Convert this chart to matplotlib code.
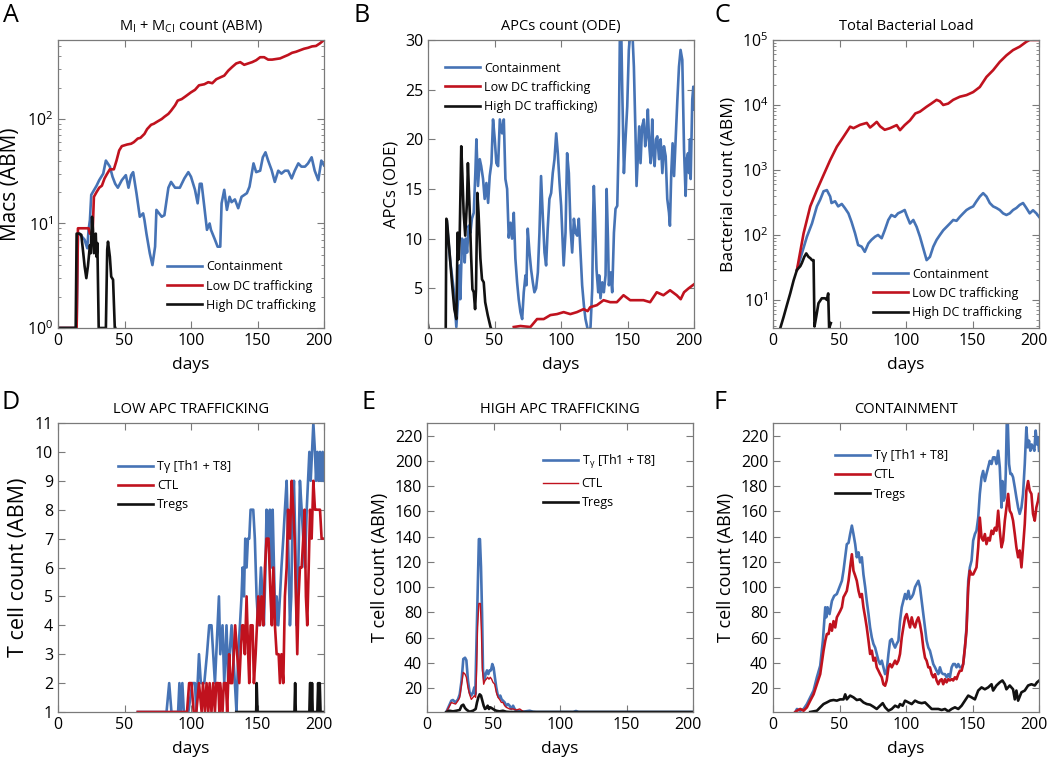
import numpy as np
import matplotlib
matplotlib.use('Agg')
import matplotlib.pyplot as plt
import matplotlib.transforms as mtransforms

plt.rcParams['font.family'] = ['Open Sans', 'DejaVu Sans']
plt.rcParams['mathtext.default'] = 'regular'

BLUE = '#4673b5'
RED = '#c0121e'
BLACK = '#111111'

# ---------------- panel A : Macs (ABM), log scale ----------------
a_blue = [[0, 1], [14, 1], [15, 8], [16, 8], [20, 7], [22, 5.8], [23, 8.7], [24, 10.8], [25, 18.8], [29, 23], [31, 26],
          [34, 30], [36, 40], [39, 35], [41, 28], [43, 24], [45, 22], [48, 26], [51, 29], [53, 22], [55, 29],
          [56.5, 31], [59, 19.5], [61.5, 11.6], [64, 12.5], [65, 10.8], [66.5, 8], [69, 5.2], [71, 4], [73, 6],
          [74, 13.5], [76, 12.5], [78, 11.6], [80, 12], [83, 22], [85, 25], [88, 22], [91.6, 22], [95, 27],
          [98, 31], [100, 28], [103, 21], [105, 15.6], [106.6, 24], [108, 24], [110, 14.5], [112, 8.7], [114, 10],
          [115, 8.7], [118, 7], [120, 6], [122, 6], [123, 15.6], [125, 21], [127, 13.5], [129, 18], [130.5, 16],
          [133, 17], [135.5, 14], [138, 18], [142, 19.5], [144, 22.5], [147, 37.6], [149, 31], [152, 32],
          [154, 43], [156, 48], [158, 40], [160.6, 32.5], [163, 25], [165.6, 32], [168, 30], [170.6, 32],
          [173, 32], [175.7, 27], [178, 32], [180.7, 37.6], [183, 35], [185.7, 35], [188, 37.6], [190.7, 43],
          [193, 32], [195.7, 26], [198, 40], [200, 36]]
a_red = [[0, 1], [14, 1], [15, 9], [23, 9], [24, 8], [26, 8], [27, 18], [29, 20], [31, 22], [33, 23], [35, 27],
         [37, 30], [39, 33], [42, 33], [44, 40], [46, 50], [48, 55], [52, 57], [55, 58], [57, 60], [60, 65],
         [62, 66], [65, 72], [67, 80], [70, 88], [72, 90], [75, 95], [78, 100], [80, 105], [83, 112], [85, 120],
         [88, 135], [90, 150], [93, 155], [96, 165], [100, 180], [103, 190], [106, 210], [110, 215], [113, 225],
         [116, 220], [119, 240], [122, 250], [125, 260], [128, 290], [131, 315], [134, 340], [137, 350],
         [140, 330], [143, 340], [146, 350], [149, 365], [152, 390], [155, 390], [158, 370], [161, 370],
         [164, 375], [167, 380], [170, 395], [173, 410], [176, 430], [179, 440], [182, 455], [185, 470],
         [188, 480], [191, 495], [194, 500], [197, 530], [200, 570]]
a_black = [[0, 1], [13.3, 1], [14, 8], [16, 8], [17.5, 7.8], [19, 5.2], [20, 3.9], [21.3, 3], [22.5, 3.9],
           [24, 6.2], [24.6, 5.2], [25.6, 11.6], [26.3, 8.7], [27, 5.2], [28.4, 8], [29, 4.8], [29.6, 6.5],
           [30.6, 1], [36, 1], [37, 5.6], [37.6, 6.7], [39, 4.8], [40, 3.1], [41.4, 2.9], [42.7, 1], [43, 1]]

# ---------------- panel B : APCs (ODE) ----------------
b_blue = [[14, 11.8], [16.8, 7.6], [19.3, 4.9], [21.3, 1.1], [22.6, 3.9], [23.6, 7.3], [24.3, 3.9], [25.6, 10],
          [26.8, 9.6], [27.6, 7.6], [28.4, 10], [29.4, 8.6], [30.6, 11.3], [31.9, 10.6], [33, 12], [34.4, 12.6],
          [35.6, 16.6], [36.4, 20], [37.6, 15.3], [38.9, 18], [40, 17.3], [41.4, 16], [42.6, 14], [43.9, 15.6],
          [45.2, 13.6], [46.4, 16.3], [47.7, 17.6], [48.9, 22], [50.2, 20], [51.4, 17.6], [52.7, 17.3],
          [54, 22], [55.7, 20.6], [57, 22], [58.2, 16], [59.5, 15], [60.7, 10.1], [62, 11.6], [63.2, 10],
          [64.5, 12.6], [65.7, 8], [67, 5.6], [68.2, 3.9], [69.5, 2.6], [70.8, 1.9], [72, 4.6], [73.3, 6.3],
          [74, 5.3], [75, 11], [76.3, 8.6], [77.5, 6.9], [78.8, 5.6], [80, 4.6], [81.3, 5], [82.6, 6.6],
          [83.8, 10.6], [85, 16.3], [86.3, 12.3], [87.6, 8.6], [88.8, 7.3], [90, 11], [91.3, 14], [92.6, 14.6],
          [93.8, 16.6], [95.1, 18], [96.4, 20.6], [97.6, 18.6], [98.9, 15.6], [100.1, 13.3], [101.4, 9.3],
          [102, 7.3], [103.4, 10.6], [104.6, 18.6], [105.9, 16.6], [107.2, 11], [108.4, 8.6], [109.7, 12],
          [110.9, 10.6], [112.2, 10.3], [113.4, 12], [114.7, 8.6], [115.9, 5.3], [117.2, 3.3], [118.4, 1.9],
          [119.7, 1.1], [121, 0.5], [122.2, 1.1], [123.5, 5], [124.2, 12.6], [124.7, 15.3], [125.5, 12.3],
          [126.7, 6.9], [128, 4.6], [128.7, 6.3], [129.7, 4], [131, 5.6], [132.2, 4.6], [133.5, 6.3],
          [134.3, 15], [135.3, 10], [136, 5.3], [137.3, 6.6], [138.5, 4.6], [139.8, 10.6], [141, 13],
          [142.3, 13.3], [143.5, 20.6], [144.3, 31], [145.3, 31], [146, 25.3], [147.3, 16.6], [148.5, 20],
          [149.8, 23.3], [151, 29], [152.3, 31], [153.6, 31], [154.8, 27.3], [156, 20.6], [156.8, 15.3],
          [157.8, 18.3], [158.8, 21.3], [159.8, 17.6], [161, 21.3], [162.3, 22], [163.3, 19.3], [164.3, 20.3],
          [165.3, 23], [166.4, 19.3], [167.4, 17.6], [168.6, 22], [169.4, 18.6], [170.4, 17.3], [171.4, 20],
          [172.4, 20.3], [173.7, 18], [174.9, 20], [176.2, 16.6], [177.4, 19.3], [178.7, 18.3], [179.9, 14],
          [181.2, 12.6], [181.9, 11.3], [182.9, 16.6], [183.9, 19.6], [185, 16.3], [186.2, 20], [187.5, 24],
          [188.7, 27.3], [189.9, 29], [191.2, 28], [192.5, 19], [193.7, 14.3], [194.5, 18], [195.5, 18.6],
          [196.2, 16.6], [197, 20], [197.5, 16], [198.7, 24], [199.5, 25.3], [200, 23]]
b_red = [[64.5, 1.1], [69.5, 1.2], [77, 1.1], [82, 1.9], [87, 1.9], [92, 2.3], [97, 2.4], [102, 2.6], [107, 2.4],
         [112, 2.6], [117, 2.9], [120, 2.7], [122, 3.1], [127, 3.3], [132, 3.8], [137, 3.6], [142, 3.6],
         [147, 4.3], [152, 3.8], [157, 3.8], [162, 3.8], [167, 3.6], [172, 4.6], [177, 4.3], [182, 4.8],
         [187, 4.3], [190, 3.9], [192.5, 4.6], [196, 5.0], [200, 5.4]]
b_black = [[0, 1.3], [1.5, 0], [13.3, 0], [13.8, 12], [14.3, 11.8], [16.8, 7.6], [18, 5.6], [19.8, 2.9],
           [21.3, 1.9], [22.3, 10.6], [23, 7.9], [23.8, 10], [25, 19.3], [25.8, 16.6], [26.8, 12.6], [28, 10.3],
           [29.4, 14], [30, 17.6], [31.4, 12.6], [32.4, 8.3], [33.4, 4.9], [34.4, 4.6], [35.4, 2.9], [36.1, 4.9],
           [37.1, 14.6], [38, 12.6], [39.4, 8], [40.6, 5.9], [41.9, 5.6], [43, 3.6], [44.9, 2.3], [47, 1.1],
           [49, 0.5]]

# ---------------- panel C : bacterial load, log scale ----------------
c_red = [[18, 29], [23, 106], [28, 275], [33, 490], [38, 836], [43, 1420], [48, 2280], [53, 3240], [58, 4640],
         [60.5, 4400], [65.5, 4950], [70.5, 5300], [73, 4500], [75.5, 4950], [78, 5500], [80.5, 4700],
         [84, 4150], [88, 4400], [93, 4900], [95.5, 4100], [99, 4900], [103, 5800], [107, 7400], [110.5, 7900],
         [115.5, 9400], [119, 10500], [123, 12000], [125.5, 11400], [128, 10000], [131.7, 10500],
         [135.5, 12000], [140.5, 13400], [145.5, 14200], [150.5, 15800], [155.5, 18900], [160.5, 27000],
         [165.5, 34300], [170.5, 46000], [175.5, 58000], [180.5, 70000], [185.5, 79000], [190.5, 94000],
         [193, 100000], [200, 100000]]
c_blue = [[18, 29], [21.7, 52], [25.5, 94], [29.3, 150], [33, 275], [35.5, 350], [38, 470], [40.5, 490],
          [43, 390], [44, 310], [46.7, 330], [49, 275], [51.7, 300], [54, 260], [56.7, 215], [59, 160],
          [61.7, 106], [64, 70], [66.7, 66], [69, 55], [71.7, 74], [74, 84], [76.7, 94], [79, 100], [81.7, 89],
          [84, 118], [86.7, 170], [89, 203], [91.7, 190], [94, 215], [96.7, 228], [99, 242], [100.5, 200],
          [103, 150], [105.5, 170], [108, 133], [110.5, 94], [113, 62], [115.5, 41], [118, 46], [120.5, 66],
          [123, 84], [125.5, 100], [128, 118], [130.5, 133], [133, 150], [135.5, 170], [138, 165], [140.5, 190],
          [143, 215], [145.5, 242], [148, 260], [150.5, 275], [153, 330], [155.5, 390], [158, 440],
          [160.5, 390], [163, 310], [165.5, 275], [168, 260], [170.5, 242], [173, 215], [175.5, 203],
          [178, 215], [180.5, 242], [183, 260], [185.5, 290], [188, 310], [190.5, 260], [193, 215],
          [195.5, 240], [198, 215], [200, 190]]
c_black = [[5.5, 3.7], [8, 5.5], [10.5, 8.4], [13, 12.7], [15.5, 20], [18, 29], [20.5, 33], [21.7, 37],
           [23.5, 46], [25, 52], [26.7, 46], [28, 44], [29.3, 41], [30.5, 41], [31.2, 3.9], [32.5, 5.5],
           [34.2, 8.9], [36.7, 10.6], [39.2, 10.6], [40.5, 10], [41.5, 12.6], [42.2, 3.7], [43, 4.1], [43.5, 4.4]]

# ---------------- panel D : low APC trafficking ----------------
d_blue = [[60, 1], [81.6, 1], [83.6, 2], [85.3, 1], [90.3, 1], [91.3, 2], [92.3, 1], [93.5, 2], [94.6, 1],
          [98, 1], [101, 2], [103, 2], [104, 1], [106, 3], [107.4, 2], [109, 2], [110, 2], [112, 3], [113.7, 4],
          [115.4, 4], [116.7, 3], [118, 2], [119, 3], [121, 5], [122, 3], [123.7, 4], [125, 2], [126.7, 4],
          [128, 2], [129, 3], [130.5, 4], [131.7, 3], [133, 2], [134.2, 1], [135.5, 3], [136.8, 4], [138, 5],
          [138.8, 6], [139.8, 5], [140.8, 7], [141.8, 6], [142.8, 7], [143.8, 7], [144.8, 8], [146.8, 8],
          [148, 7], [149.3, 5], [150.6, 4], [151.6, 5], [152.6, 6], [153.8, 5], [154.8, 4], [156, 6],
          [156.8, 8], [158, 7], [159.3, 8], [160.6, 6], [161.4, 8], [162.4, 6], [163.4, 4], [164.4, 5],
          [165.6, 4], [166.9, 5], [168, 6], [169.4, 7], [170.6, 8], [171.9, 9], [173, 7], [174.4, 4],
          [175.4, 5], [176.4, 8], [177.4, 9], [178.4, 7], [179.4, 4], [180.7, 6], [181.9, 9], [183.2, 8],
          [184.4, 7], [185.7, 6], [187, 8], [188, 9], [189, 10], [190, 9], [191, 10], [192, 11], [193.2, 10],
          [194, 9], [195, 10], [196, 9], [197, 10], [198, 9], [199, 10], [200, 9]]
d_red = [[60, 1], [97, 1], [98.6, 2], [100.4, 2], [102, 1], [104, 1], [106, 2], [108, 1], [109, 2], [110.5, 1],
         [111.7, 2], [113, 1], [114, 2], [115.4, 1], [116.7, 2], [118, 1], [119, 2], [120.5, 2], [121.3, 1],
         [122, 2], [123.7, 1], [124.7, 2], [126.2, 2], [127.2, 1], [128.7, 3], [129.7, 2], [131, 2], [132.2, 3],
         [133.2, 4], [134.7, 3], [136.3, 2], [137.3, 3], [138.5, 4], [139.3, 4], [140.5, 3], [141.8, 5],
         [143, 3], [143.8, 2], [144.8, 4], [146.3, 4], [147.3, 2], [148.6, 3], [149.6, 4], [150.6, 5],
         [151.8, 4], [153, 5], [154.3, 4], [155.6, 6], [156.8, 7], [158.3, 7], [159.8, 5], [160.8, 4],
         [161.9, 6], [163.1, 4], [164.4, 3], [165.9, 3], [166.9, 2], [168, 3], [169.4, 2], [170.6, 5],
         [171.9, 6], [173, 8], [174.4, 7], [175.7, 9], [176.9, 8], [177.9, 7], [178.9, 5], [179.9, 3],
         [180.9, 5], [181.9, 6], [183.2, 6], [184.4, 7], [185.4, 8], [186.4, 5], [187.4, 4], [188.5, 6],
         [189.5, 8], [190.7, 7], [192, 9], [193.2, 8], [194.5, 8], [195.7, 8], [197, 8], [198.2, 7], [200, 7]]
d_black = [[134, 1], [149, 1], [149.4, 2], [150, 1], [177.8, 1], [178.3, 2], [178.8, 1], [189, 1], [189.5, 2],
           [190, 2], [190.5, 1], [191, 2], [191.5, 1], [195, 1], [195.6, 2], [196.3, 1], [196.8, 2],
           [197.4, 1], [200, 1]]

# ---------------- panel E : high APC trafficking ----------------
e_blue = [[14.5, 1], [18.3, 10], [19.5, 10.5], [21.5, 8.6], [23.3, 11], [24.6, 15], [26, 26], [27.3, 43],
          [28.6, 44], [29.6, 42], [30.8, 26], [32, 16.6], [33.3, 14], [34.6, 16.6], [35.6, 20.5], [36.3, 15],
          [37, 47], [38, 92], [39, 138], [39.8, 138], [40.6, 116], [41.4, 79], [42.1, 34], [43.1, 26],
          [44.1, 31], [45.1, 34], [46.1, 31], [47.1, 34], [48.1, 34], [49.1, 39], [50.1, 36], [51.1, 28],
          [52.1, 20.5], [53.1, 15], [54.1, 12.6], [55.1, 14], [56.1, 11], [57.1, 10], [58.4, 8.6], [59.6, 6],
          [60.9, 7.3], [62.1, 6], [63.4, 3.4], [64.7, 6], [65.9, 3.4], [67.2, 2], [69.7, 1.5], [72.2, 1.2],
          [77.2, 2], [79.7, 1.2], [82.2, 1], [110, 1], [112, 1.8], [114, 1], [200, 1]]
e_red = [[14.5, 1], [18.3, 8.6], [19.5, 8], [21.5, 7.3], [23.3, 10], [24.6, 12.6], [26, 23], [27.3, 32.4],
         [28.6, 31], [29.6, 28.5], [30.8, 20.5], [32, 15], [33.3, 11], [34.6, 12.6], [35.6, 14], [36.6, 12.6],
         [37.3, 34], [38, 68], [39, 87], [40.1, 87], [40.9, 65], [41.6, 36], [42.6, 23], [43.6, 26],
         [44.6, 27], [45.6, 28.5], [46.6, 27], [47.6, 28.5], [48.6, 27], [49.6, 24.5], [50.9, 23],
         [52.1, 16.6], [53.4, 12.6], [54.6, 11], [55.9, 8.6], [57.1, 8.6], [58.4, 6], [59.6, 4.7], [62.1, 3.4],
         [64.7, 3.4], [67.2, 2.6], [69.7, 3.4], [72.2, 1.5], [74.7, 1], [200, 1]]
e_black = [[14.5, 1], [17, 2], [19.5, 1.5], [22, 2], [24.6, 2.6], [26, 6], [27.3, 6.8], [28.6, 4.1], [30, 2.6],
           [32, 1.2], [34.6, 2], [36.6, 3.4], [37.6, 8.6], [38.6, 12.6], [39.6, 15], [40.6, 14], [41.6, 10],
           [42.6, 6], [43.6, 3.4], [44.6, 4.1], [45.6, 6], [46.6, 3.4], [47.6, 4.7], [48.6, 4.1], [49.6, 3.4],
           [50.9, 2.6], [52.1, 2], [54.6, 1.5], [57.1, 2], [59.6, 1.2], [62, 1], [200, 1]]

# ---------------- panel F : containment ----------------
f_blue = [[16.8, 1], [18, 3.4], [20.5, 2], [23, 3.4], [25.5, 7.3], [28, 12.6], [30.5, 18], [33, 28.5],
          [35.5, 37.7], [37.5, 57.5], [39.3, 84], [40, 76], [41, 84], [42.5, 78.6], [44.3, 89], [46, 93],
          [48, 94.5], [50, 100], [51.8, 105], [53, 113], [54.3, 123.6], [55.5, 134], [56.8, 135], [58, 142],
          [59.3, 148.7], [60.5, 142], [61.8, 134], [63, 123.6], [64.3, 127.5], [65.5, 119.6], [66.8, 123.6],
          [68, 110], [69.3, 100], [70.5, 89], [71.8, 78.6], [73, 68], [74.3, 60], [75.5, 55], [76.8, 52],
          [78, 47], [79.3, 41.7], [80.5, 39], [81.8, 41.7], [83, 36.4], [84.3, 31], [85.5, 33.7], [86.8, 47],
          [88, 57.5], [89.3, 58.8], [90.5, 55], [91.8, 52], [93, 55], [94.3, 57.5], [95.5, 73], [96.8, 84],
          [98, 89], [99.3, 94.5], [100.5, 90.5], [101.8, 97], [103, 90.5], [104.3, 92], [105.5, 94.5],
          [106.8, 100], [108, 102.4], [109.3, 105], [110.5, 100], [111.8, 89], [113, 78.6], [114.3, 68],
          [115.5, 57.5], [116.8, 52], [118, 49.6], [119.3, 44], [120.5, 39], [121.8, 36.4], [123, 33.7],
          [124.3, 31], [125.5, 36.4], [126.8, 32], [128, 31], [129.3, 31], [130.5, 28.5], [131.8, 31],
          [133, 28.5], [134.3, 36.4], [135.5, 39], [136.8, 39], [138, 36.4], [139.3, 39], [140.5, 36.4],
          [141.8, 36.4], [143, 39], [144.3, 52], [145.5, 68], [146.8, 105], [148, 115.6], [149.3, 121],
          [150.5, 136.8], [151.8, 142], [153, 144.7], [154.3, 155], [155.5, 173.8], [156.8, 187], [158, 192],
          [159.3, 184], [160.5, 189.6], [161.8, 195], [163, 200], [164.3, 197.5], [165.5, 202.8],
          [166.8, 202.8], [168, 197.5], [169.3, 208], [170.5, 195], [171.8, 163], [172.5, 184], [173.5, 168.5],
          [174.3, 171], [175, 189.6], [175.8, 232], [176.5, 232], [177.5, 197.5], [178.5, 189.6],
          [179.5, 189.6], [180.5, 187], [181.8, 179], [183, 171], [184.3, 163], [185.5, 158], [186.8, 163],
          [188, 173.8], [189.3, 197.5], [190.5, 226.6], [191.5, 210.7], [192.5, 216], [193.5, 208],
          [194.5, 213], [195.5, 210.7], [196.5, 208], [197.5, 224], [198.5, 213], [199.3, 218.7], [200, 208]]
f_red = [[16.8, 1], [18, 2], [20.5, 3.4], [23, 2], [25.5, 4.7], [28, 10], [30.5, 15], [33, 23], [35.5, 31],
         [38, 49.6], [39.3, 57.5], [40.5, 62.8], [41.8, 62.8], [43, 70.7], [44.3, 65.4], [45.5, 73], [46.8, 68],
         [48, 76], [49.3, 78.6], [50.5, 81], [51.8, 84], [53, 92], [54.3, 94.5], [55.5, 97], [56.8, 105],
         [58, 115.6], [59.3, 126], [60.5, 113], [61.8, 109], [63, 105], [64.3, 97], [65.5, 92], [66.8, 94.5],
         [68, 84], [69.3, 76], [70.5, 68], [71.8, 57.5], [73, 47], [74.3, 49.6], [75.5, 41.7], [76.8, 44],
         [78, 36.4], [79.3, 33.7], [80.5, 31], [81.8, 28.5], [83, 23], [84.3, 21.8], [85.5, 26], [86.8, 36.4],
         [88, 39], [89.3, 36.4], [90.5, 39], [91.8, 41.7], [93, 39], [94.3, 41.7], [95.5, 47], [96.8, 60],
         [98, 68], [99.3, 76], [100.5, 78.6], [101.8, 73], [103, 68], [104.3, 76], [105.5, 70.7], [106.8, 68],
         [108, 73], [109.3, 76], [110.5, 70.7], [111.8, 62.8], [113, 52], [114.3, 44], [115.5, 41.7],
         [116.8, 36.4], [118, 36.4], [119.3, 31], [120.5, 28.5], [121.8, 31], [123, 26], [124.3, 23],
         [125.5, 26], [126.8, 27], [128, 23], [129.3, 27], [130.5, 24.5], [131.8, 27], [133, 26], [134.3, 27],
         [135.5, 26], [136.8, 28.5], [138, 27], [139.3, 31], [140.5, 33.7], [141.8, 33.7], [143, 39],
         [144.3, 52], [145.5, 65.4], [146.8, 100], [148, 113], [149.3, 110], [150.5, 110], [151.8, 113],
         [153, 115.6], [154.3, 131.5], [155.5, 155], [156.8, 139], [158, 136.8], [159.3, 142], [160.5, 134],
         [161.8, 139], [163, 136.8], [164.3, 144.7], [165.5, 142], [166.8, 147], [168, 144.7], [169.3, 160.5],
         [170.5, 144.7], [171.8, 131.5], [173, 136.8], [174.3, 152.6], [175.5, 163], [176.8, 173.8],
         [178, 160.5], [179.3, 158], [180.5, 152.6], [181.8, 142], [183, 131.5], [184.3, 123.6], [185.5, 129],
         [186.8, 115.6], [188, 131.5], [189.3, 150], [190.5, 176.4], [191.8, 184], [193, 176.4],
         [194.3, 173.8], [195.5, 158], [196.8, 152.6], [198, 163], [199.3, 168.5], [200, 173.8]]
f_black = [[28, 1], [33, 2], [35.5, 4.7], [38, 7.3], [40.5, 8.6], [43, 10], [45.5, 10.5], [48, 10], [50.5, 11],
           [53, 11], [54.3, 15], [55.5, 11], [56.8, 12.6], [58, 14], [60.5, 12.6], [63, 10.5], [65.5, 11],
           [68, 8.6], [70.5, 7.3], [73, 6.8], [75.5, 5.2], [78, 3.4], [80.5, 6], [82.5, 8], [84.3, 4.7],
           [86.8, 2], [89.3, 3.4], [91.8, 6], [94.3, 4.7], [95.5, 7.3], [97.5, 6], [99.3, 10], [101.8, 8.6],
           [104.3, 7.3], [106.8, 10], [109.3, 8.6], [111.8, 8], [114.3, 8.6], [116.8, 6], [119.3, 3.4],
           [121.8, 3.4], [124.3, 3.4], [126.8, 2.6], [129.3, 3.4], [131.8, 1.5], [134.3, 3.4], [136.8, 4.7],
           [139.3, 3.4], [141.8, 6], [144.3, 10], [146.8, 14], [149.3, 12.6], [151.8, 11], [154.3, 18],
           [156.8, 20.5], [159.3, 19], [161.8, 20.5], [164.3, 23], [165.5, 18], [168, 22], [170.5, 24.5],
           [172.5, 26], [174.3, 23], [175.5, 19], [178, 22], [180.5, 19], [181.8, 11], [183, 18], [184.3, 10],
           [186.8, 16.6], [189.3, 18], [191.8, 22], [194.3, 23], [196.8, 22], [198.5, 24.5], [200, 25.8]]

legend_abc = ['Containment', 'Low DC trafficking', 'High DC trafficking']
legend_b = ['Containment', 'Low DC trafficking', 'High DC trafficking)']
legend_d = ['Tγ [Th1 + T8]', 'CTL', 'Tregs']
legend_e = ['T$_{γ}$ [Th1 + T8]', 'CTL', 'Tregs']


def style_axes(ax):
    for s in ax.spines.values():
        s.set_color('#7a7a7a')
        s.set_linewidth(0.9)
    ax.tick_params(which='both', direction='in', top=True, right=True, colors='#7a7a7a',
                   labelcolor='black', labelsize=11.5)
    ax.tick_params(which='major', length=5)
    ax.tick_params(which='minor', length=2.5)
    ax.set_xlim(0, 200)
    ax.set_xticks([0, 50, 100, 150, 200])
    ax.set_xlabel('days', fontsize=12.5, labelpad=6)
    # last x tick label sits a little to the left, as in the original
    lab = ax.get_xticklabels()[-1]
    lab.set_transform(lab.get_transform() + mtransforms.ScaledTranslation(-5 / 100, 0, fig.dpi_scale_trans))


def draw(ax, series, colors, widths):
    for s, c, w in zip(series, colors, widths):
        arr = np.array(s, dtype=float)
        ax.plot(arr[:, 0], arr[:, 1], color=c, lw=w)


def add_legend(ax, labels, x, y):
    ax.legend(ax.get_lines(), labels, loc='upper left', bbox_to_anchor=(x, y), frameon=False, fontsize=9,
              handlelength=2.8, handletextpad=0.3, labelspacing=0.5, borderpad=0, borderaxespad=0)


fig = plt.figure(figsize=(10.5, 7.6), dpi=100)
W = 266 / 1050
H = 288 / 760

axA = fig.add_axes([58 / 1050, 1 - 328 / 760, W, H])
draw(axA, [a_blue, a_red, a_black], [BLUE, RED, BLACK], [1.9, 1.9, 1.9])
axA.set_yscale('log')
axA.set_ylim(1, 570)
style_axes(axA)
axA.set_ylabel('Macs (ABM)', fontsize=15)
axA.set_title('M$_{I}$ + M$_{CI}$ count (ABM)', fontsize=10.5, pad=7)
add_legend(axA, legend_abc, 0.41, 0.235)

axB = fig.add_axes([428 / 1050, 1 - 328 / 760, W, H])
draw(axB, [b_blue, b_red, b_black], [BLUE, RED, BLACK], [1.9, 1.9, 1.9])
axB.set_ylim(1, 30)
axB.set_yticks([5, 10, 15, 20, 25, 30])
style_axes(axB)
axB.set_ylabel('APCs (ODE)', fontsize=12)
axB.set_title('APCs count (ODE)', fontsize=10.5, pad=7)
add_legend(axB, legend_b, 0.064, 0.925)

axC = fig.add_axes([773 / 1050, 1 - 328 / 760, W, H])
draw(axC, [c_blue, c_red, c_black], [BLUE, RED, BLACK], [1.9, 1.9, 1.9])
axC.set_yscale('log')
axC.set_ylim(3.7, 1e5)
style_axes(axC)
axC.set_ylabel('Bacterial count (ABM)', fontsize=12.5)
axC.set_title('Total Bacterial Load', fontsize=10.5, pad=7)
add_legend(axC, legend_abc, 0.376, 0.21)

H2 = 289 / 760
axD = fig.add_axes([58 / 1050, 1 - 712 / 760, W, H2])
draw(axD, [d_blue, d_red, d_black], [BLUE, RED, BLACK], [1.9, 1.9, 1.9])
axD.set_ylim(1, 11)
axD.set_yticks(range(1, 12))
style_axes(axD)
axD.set_ylabel('T cell count (ABM)', fontsize=15.5)
axD.set_title('LOW APC TRAFFICKING', fontsize=10.5, pad=7)
add_legend(axD, legend_d, 0.226, 0.872)

axE = fig.add_axes([427 / 1050, 1 - 712 / 760, W, H2])
draw(axE, [e_blue, e_red, e_black], [BLUE, RED, BLACK], [1.9, 1.0, 1.9])
axE.set_ylim(1, 230)
axE.set_yticks(range(20, 221, 20))
style_axes(axE)
axE.set_ylabel('T cell count (ABM)', fontsize=13)
axE.set_title('HIGH APC TRAFFICKING', fontsize=10.5, pad=7)
add_legend(axE, legend_e, 0.436, 0.897)

axF = fig.add_axes([773 / 1050, 1 - 712 / 760, W, H2])
draw(axF, [f_blue, f_red, f_black], [BLUE, RED, BLACK], [1.9, 1.9, 1.9])
axF.set_ylim(1, 230)
axF.set_yticks(range(20, 221, 20))
style_axes(axF)
axF.set_ylabel('T cell count (ABM)', fontsize=13)
axF.set_title('CONTAINMENT', fontsize=10.5, pad=7)
add_legend(axF, legend_d, 0.233, 0.91)

for letter, x, y in [('A', 3, 3), ('B', 353, 3), ('C', 714, 3), ('D', 2, 390), ('E', 362, 390), ('F', 713, 390)]:
    fig.text(x / 1050, 1 - y / 760, letter, fontsize=18, va='top', ha='left')

fig.savefig('out.png', dpi=100)
